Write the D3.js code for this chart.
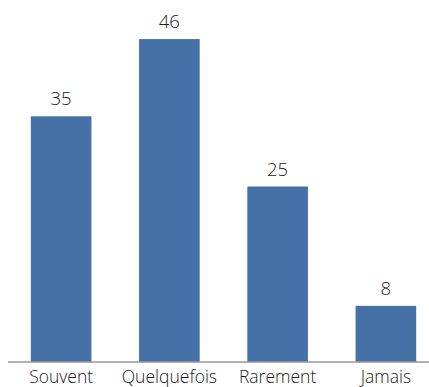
<!DOCTYPE html>
<html>
<head>
<meta charset="utf-8">
<script src="https://cdn.jsdelivr.net/npm/d3@7"></script>
<style>
  html, body { margin: 0; padding: 0; background: #fff; }
  svg { display: block; }
  text { font-family: "Open Sans", sans-serif; font-weight: 300; fill: #1a1a1a; }
</style>
</head>
<body>
<svg id="chart" width="429" height="387"></svg>
<script>
// Answer categories and their counts
const categories = ["Souvent", "Quelquefois", "Rarement", "Jamais"];
const values = [35, 46, 25, 8];

const svg = d3.select("#chart");
const baseY = 362;

const x = d3.scaleBand()
  .domain(categories)
  .range([7, 440])
  .paddingInner(0.44)
  .paddingOuter(0.22);

const y = d3.scaleLinear()
  .domain([0, 50])
  .range([baseY, baseY - 351]);

const data = categories.map((c, i) => ({ c, v: values[i] }));

// bars
svg.selectAll("rect.bar")
  .data(data)
  .join("rect")
  .attr("class", "bar")
  .attr("x", d => x(d.c))
  .attr("width", x.bandwidth())
  .attr("y", d => y(d.v))
  .attr("height", d => y(0) - y(d.v))
  .attr("fill", "#4570a8");

// value labels above bars
svg.selectAll("text.val")
  .data(data)
  .join("text")
  .attr("class", "val")
  .attr("x", d => x(d.c) + x.bandwidth() / 2)
  .attr("y", d => y(d.v) - 11)
  .attr("text-anchor", "middle")
  .style("font-size", "18.5px")
  .text(d => d.v);

// category axis
const axis = d3.axisBottom(x).tickSize(0).tickPadding(0);
const g = svg.append("g")
  .attr("transform", `translate(0,${baseY})`)
  .call(axis);
g.select(".domain").remove();
g.append("line")
  .attr("x1", 8).attr("x2", 429)
  .attr("y1", 0).attr("y2", 0)
  .attr("stroke", "#999")
  .attr("stroke-width", 1.5);
g.selectAll(".tick text")
  .attr("y", 21)
  .attr("dy", null)
  .style("font-size", "17.5px")
  .style("font-family", "'Open Sans', sans-serif")
  .style("font-weight", 300)
  .attr("fill", "#1a1a1a");
</script>
</body>
</html>
